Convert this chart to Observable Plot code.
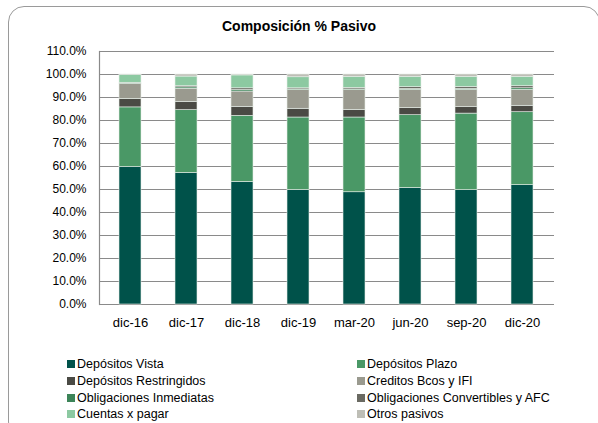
<!DOCTYPE html>
<html>
<head>
<meta charset="utf-8">
<script src="https://cdn.jsdelivr.net/npm/d3@7"></script>
<script src="https://cdn.jsdelivr.net/npm/@observablehq/plot@0.6"></script>
<style>
  html, body { margin: 0; padding: 0; background: #fff; overflow: hidden; }
  body { width: 598px; height: 423px; position: relative; font-family: "Liberation Sans", Arial, sans-serif; }
  #frame { position: absolute; left: 8px; top: 6px; width: 592px; height: 432px; border: 1.5px solid #9a9a9a; border-radius: 16px; box-sizing: border-box; }
  #title { position: absolute; left: 0; width: 598px; top: 18px; text-align: center; font-weight: bold; font-size: 14px; color: #000; }
  #chart { position: absolute; left: 0; top: 0; }
  .leg { position: absolute; font-size: 12.5px; color: #000; white-space: nowrap; line-height: 14px; }
  .leg span.sw { display: inline-block; width: 8px; height: 8px; margin-right: 2px; vertical-align: 0px; }
</style>
</head>
<body>
<div id="frame"></div>
<div id="title">Composición % Pasivo</div>
<div id="chart"></div>
<div id="legend"></div>
<script>
const fechas = ["dic-16","dic-17","dic-18","dic-19","mar-20","jun-20","sep-20","dic-20"];
const series = ["Depósitos Vista","Depósitos Plazo","Depósitos Restringidos","Creditos Bcos y IFI","Obligaciones Inmediatas","Obligaciones Convertibles y AFC","Cuentas x pagar","Otros pasivos"];
const colores = ["#00524a","#4a9866","#4a4a44","#9a9a8f","#3c8458","#6a6a62","#8cc9a1","#bebeb6"];

const depositosVista        = [59.8, 57.2, 53.3, 49.8, 48.8, 50.7, 49.7, 51.9];
const depositosPlazo        = [25.9, 27.3, 28.7, 31.5, 32.5, 31.6, 33.3, 31.7];
const depositosRestringidos = [3.7, 3.6, 3.9, 3.8, 3.3, 3.2, 2.8, 2.8];
const creditosBcos          = [6.4, 5.7, 6.7, 8.1, 8.6, 7.8, 7.5, 6.9];
const obligInmediatas       = [0.2, 0.6, 0.6, 0.3, 0.3, 0.4, 0.5, 0.7];
const obligConvertibles     = [0.4, 0.5, 0.8, 0.5, 0.7, 0.8, 0.8, 0.9];
const cuentasPagar          = [3.4, 4.2, 5.6, 4.8, 4.8, 4.5, 4.4, 4.1];
const otrosPasivos          = [0.2, 0.9, 0.4, 1.2, 1.0, 1.0, 1.0, 1.0];

const yTicks = [0,10,20,30,40,50,60,70,80,90,100,110];

const valores = [depositosVista, depositosPlazo, depositosRestringidos, creditosBcos, obligInmediatas, obligConvertibles, cuentasPagar, otrosPasivos];
const data = [];
series.forEach((s, i) => fechas.forEach((f, j) => data.push({fecha: f, serie: s, valor: valores[i][j]})));

const chart = Plot.plot({
  width: 598,
  height: 340,
  marginLeft: 99,
  marginRight: 44,
  marginTop: 51,
  marginBottom: 36,
  style: { fontFamily: '"Liberation Sans", Arial, sans-serif', fontSize: "12px", color: "#000", background: "transparent" },
  x: { domain: fechas, paddingInner: 0.607, paddingOuter: 0.3035, label: null },
  y: { domain: [0, 110], label: null },
  color: { domain: series, range: colores },
  marks: [
    Plot.ruleY(yTicks, { stroke: "#8a8a8a", strokeWidth: 1.2 }),
    Plot.frame({ anchor: "left", stroke: "#8a8a8a", strokeWidth: 1.2 }),
    Plot.barY(data, Plot.stackY({ x: "fecha", y: "valor", fill: "serie", order: series, stroke: "#e6eee8", strokeWidth: 0.6 })),
    Plot.axisY({ ticks: yTicks, tickFormat: d => d.toFixed(1) + "%", tickSize: 0, tickPadding: 13, label: null }),
    Plot.axisX({ tickSize: 0, tickPadding: 13, label: null, fontSize: 13 })
  ]
});
document.getElementById("chart").appendChild(chart);

// legend
const leg = document.getElementById("legend");
const colX = [67, 357];
const rowY = [357, 374, 391, 407];
series.forEach((s, i) => {
  const d = document.createElement("div");
  d.className = "leg";
  d.style.left = colX[i % 2] + "px";
  d.style.top = rowY[Math.floor(i / 2)] + "px";
  d.innerHTML = '<span class="sw" style="background:' + colores[i] + '"></span>' + s;
  leg.appendChild(d);
});
</script>
</body>
</html>
